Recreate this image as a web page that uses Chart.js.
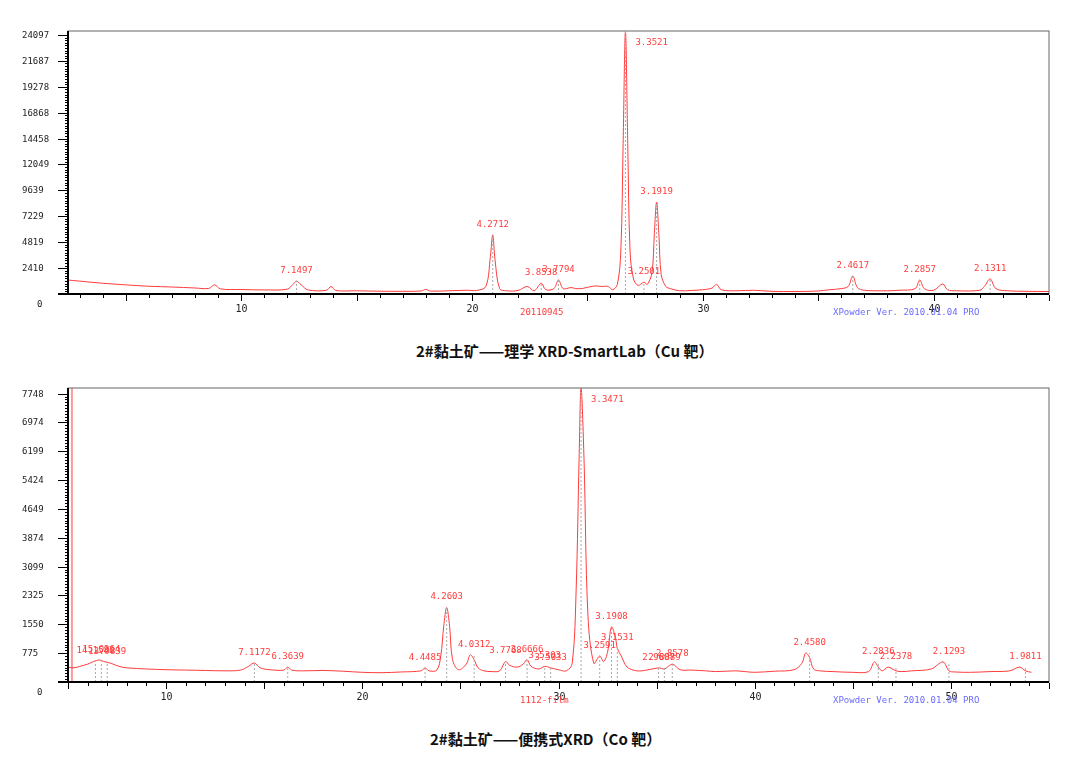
<!DOCTYPE html>
<html>
<head>
<meta charset="utf-8">
<script src="https://cdn.jsdelivr.net/npm/chart.js@4/dist/chart.umd.min.js"></script>
<style>
  body { margin: 0; background: #fff; width: 1080px; height: 772px; position: relative; overflow: hidden; }
  canvas { position: absolute; left: 0; }
  .title { position: absolute; font-family: "Noto Sans CJK SC", sans-serif; font-weight: bold; font-size: 15px; color: #111; white-space: nowrap; }
</style>
</head>
<body>
<canvas id="topChart" width="1080" height="330" style="top:0"></canvas>
<div class="title" style="left:416px; top:340px">2#黏土矿——理学 XRD-SmartLab（Cu 靶）</div>
<canvas id="bottomChart" width="1080" height="350" style="top:370px"></canvas>
<div class="title" style="left:430px; top:728px">2#黏土矿——便携式XRD（Co 靶）</div>
<script>
// ---- top pattern (Cu) ----
const cuTheta = [2.5,3,4,5,6,7,8,8.6,8.85,9.1,10,11,12,12.25,12.4,12.6,12.9,13.7,13.9,14.1,15,16,17,17.8,18,18.2,19,19.8,20.2,20.6,20.8,20.9,21.0,21.2,21.5,22,22.4,22.7,23.0,23.2,23.55,23.75,23.95,24.3,24.5,24.8,25.3,25.6,25.9,26.1,26.3,26.45,26.55,26.65,26.75,26.85,27.0,27.2,27.45,27.6,27.8,27.9,28.0,28.1,28.2,28.4,28.6,29,29.5,30,30.4,30.6,30.8,31.5,32.2,33,34,35,35.5,36,36.3,36.5,36.7,37,38,38.5,39.2,39.4,39.6,40,40.4,40.6,41,42,42.2,42.45,42.7,43.2,44,45];
const cuCounts = [1300,1200,1000,850,720,650,560,520,850,480,420,380,450,900,1200,850,380,350,700,330,300,260,250,280,420,270,300,350,330,700,3500,5500,3200,500,300,330,700,300,1000,400,500,1300,500,600,500,520,750,700,700,400,900,4000,14000,24400,14000,4000,1400,800,1100,900,2000,5500,8560,5500,1800,700,500,300,330,400,550,900,400,300,350,250,230,280,400,500,700,1670,600,350,300,350,500,1300,500,350,930,400,300,350,700,1400,500,300,250,230];
const cuPeakTheta = [12.4,20.9,23.0,23.75,26.65,27.45,28.0,36.5,39.4,42.45];
const cuPeakCounts = [1200,5500,1000,1300,24400,1100,8560,1670,1300,1400];
const cuPeakLabels = ["7.1497","4.2712","3.8538","3.7794","3.3521","3.2501","3.1919","2.4617","2.2857","2.1311"];
const cuYTicks = [0,2410,4819,7229,9639,12049,14458,16868,19278,21687,24097];

// ---- bottom pattern (Co) ----
const coTheta = [5,5.3,5.6,6,6.3,6.6,6.9,7.2,7.6,8,9,10,11,12,13,13.8,14.2,14.5,14.8,15.3,16,16.2,16.4,17,18,19,20,21,22,23,23.2,23.4,23.8,24.0,24.15,24.3,24.45,24.6,24.9,25.3,25.5,25.7,25.9,26.2,26.6,27.0,27.3,27.5,27.9,28.2,28.4,28.6,29,29.3,29.6,30,30.4,30.7,30.9,31.05,31.15,31.3,31.5,31.8,32.1,32.3,32.5,32.7,32.9,33.0,33.2,33.5,34,34.5,35.1,35.4,35.8,36.2,36.8,37.5,38,39,39.5,40,41,42,42.4,42.6,42.8,43.0,43.3,44,45,45.8,46.1,46.3,46.5,46.8,47.2,47.5,48,49,49.6,49.9,50.2,51,52,53,53.5,53.8,54.1,55];
const coCounts = [400,380,420,480,550,590,540,500,420,380,350,330,320,310,300,320,420,510,380,330,320,400,320,300,310,290,260,250,270,300,380,300,320,700,1500,2000,1500,600,330,480,730,600,380,300,280,300,550,450,400,480,600,420,350,420,380,330,300,500,2500,6000,7900,6000,1800,500,700,550,800,1480,1200,900,700,400,300,320,380,350,480,330,320,300,280,300,280,260,290,330,500,780,650,350,300,280,260,280,540,400,300,400,300,280,300,350,540,300,270,260,280,300,400,300,260];
const coPeakTheta = [6.4,6.7,7.0,14.5,16.2,23.2,24.3,25.7,27.3,28.4,29.3,29.6,31.15,32.1,33.0,32.7,35.1,35.4,35.8,42.8,46.3,47.2,49.9,53.8];
const coPeakCounts = [550,590,540,510,400,380,2000,730,550,600,420,380,7900,700,900,1480,380,380,480,780,540,400,540,400];
const coPeakLabels = ["14.1582","15.0364","13.9839","7.1172","6.3639","4.4485","4.2603","4.0312","3.7768","3.6666","3.5303","3.5033","3.3471","3.2591","3.1531","3.1908","2.9607","2.8889","2.8578","2.4580","2.2836","2.2378","2.1293","1.9811"];
const coYTicks = [0,775,1550,2325,3099,3874,4649,5424,6199,6974,7748];
const coMarkerTheta = [5.2, 5.2];
const coMarkerCounts = [0, 7900];

const RED = "#ff3b3b";
const MONO = "9px 'DejaVu Sans Mono', monospace";

function xrdFramePlugin(cfg) {
  return {
    id: "xrdFrame",
    afterDatasetsDraw(chart) {
      const ctx = chart.ctx;
      const a = chart.chartArea;
      const xs = chart.scales.x, ys = chart.scales.y;
      ctx.save();
      // peak guide lines and labels
      ctx.setLineDash([2, 2]);
      ctx.strokeStyle = "#aaa";
      ctx.lineWidth = 1;
      cfg.peakTheta.forEach((t, i) => {
        const px = xs.getPixelForValue(t);
        ctx.beginPath();
        ctx.moveTo(px, ys.getPixelForValue(0));
        ctx.lineTo(px, ys.getPixelForValue(cfg.peakCounts[i]));
        ctx.stroke();
      });
      ctx.setLineDash([]);
      ctx.font = MONO;
      ctx.fillStyle = RED;
      ctx.textBaseline = "bottom";
      cfg.peakTheta.forEach((t, i) => {
        const px = xs.getPixelForValue(t);
        let py = ys.getPixelForValue(cfg.peakCounts[i]) - 6;
        if (py < a.top + 12) {
          ctx.textAlign = "left";
          ctx.fillText(cfg.peakLabels[i], px + 10, a.top + 16);
        } else {
          ctx.textAlign = "center";
          ctx.fillText(cfg.peakLabels[i], px, py);
        }
      });
      // frame
      ctx.strokeStyle = "#666";
      ctx.lineWidth = 1;
      ctx.strokeRect(a.left, a.top, a.right - a.left, a.bottom - a.top);
      ctx.strokeStyle = "#000";
      ctx.lineWidth = 2;
      ctx.beginPath();
      ctx.moveTo(a.left - 10, a.bottom); ctx.lineTo(a.right, a.bottom);
      ctx.moveTo(a.left, a.top); ctx.lineTo(a.left, a.bottom);
      ctx.stroke();
      ctx.lineWidth = 1;
      // x ticks
      ctx.font = "10px 'DejaVu Sans Mono', monospace";
      ctx.fillStyle = "#222";
      ctx.textAlign = "center";
      ctx.textBaseline = "top";
      for (let v = Math.ceil(xs.min); v <= xs.max; v++) {
        const px = Math.round(xs.getPixelForValue(v)) + 0.5;
        const len = v % 5 === 0 ? 6 : 3;
        ctx.beginPath(); ctx.moveTo(px, a.bottom + 1); ctx.lineTo(px, a.bottom + 1 + len); ctx.stroke();
        if (v % 10 === 0) ctx.fillText(String(v), px, a.bottom + 10);
      }
      // y ticks
      ctx.font = MONO;
      ctx.textAlign = "left";
      ctx.textBaseline = "middle";
      const step = cfg.yTicks[1];
      cfg.yTicks.forEach((v, i) => {
        const py = Math.round(ys.getPixelForValue(v)) + 0.5;
        ctx.beginPath(); ctx.moveTo(a.left - 10, py); ctx.lineTo(a.left, py); ctx.stroke();
        ctx.fillText(String(v), v === 0 ? 37 : 22, py + (v === 0 ? 10 : 0));
        if (i < cfg.yTicks.length - 1) {
          for (let k = 1; k < 10; k++) {
            const my = Math.round(ys.getPixelForValue(v + step * k / 10)) + 0.5;
            ctx.beginPath(); ctx.moveTo(a.left - 3, my); ctx.lineTo(a.left, my); ctx.stroke();
          }
        }
      });
      // footer texts
      ctx.textBaseline = "top";
      ctx.fillStyle = RED;
      ctx.fillText(cfg.sample, 520, a.bottom + 14);
      ctx.fillStyle = "#6a6aff";
      ctx.fillText("XPowder Ver. 2010.01.04 PRO", 833, a.bottom + 14);
      ctx.restore();
    }
  };
}

function makeXrd(id, theta, counts, extra, xr, yMax, pad, cfg) {
  const datasets = [{
    data: theta.map((t, i) => ({ x: t, y: counts[i] })),
    borderColor: RED, borderWidth: 1, pointRadius: 0, tension: 0.35, fill: false
  }];
  if (extra) datasets.push({
    data: extra[0].map((t, i) => ({ x: t, y: extra[1][i] })),
    borderColor: "#ff9a9a", borderWidth: 2, pointRadius: 0, fill: false
  });
  new Chart(document.getElementById(id).getContext("2d"), {
    type: "line",
    data: { datasets },
    options: {
      responsive: false, animation: false,
      layout: { padding: pad },
      plugins: { legend: { display: false }, tooltip: { enabled: false } },
      scales: {
        x: { type: "linear", min: xr[0], max: xr[1], display: false },
        y: { min: 0, max: yMax, display: false }
      }
    },
    plugins: [xrdFramePlugin(cfg)]
  });
}

makeXrd("topChart", cuTheta, cuCounts, null, [2.5, 45], 24470,
  { left: 68, top: 31, right: 31, bottom: 36 },
  { peakTheta: cuPeakTheta, peakCounts: cuPeakCounts, peakLabels: cuPeakLabels, yTicks: cuYTicks, sample: "20110945" });

makeXrd("bottomChart", coTheta, coCounts, [coMarkerTheta, coMarkerCounts], [5, 55], 7900,
  { left: 68, top: 18, right: 31, bottom: 38 },
  { peakTheta: coPeakTheta, peakCounts: coPeakCounts, peakLabels: coPeakLabels, yTicks: coYTicks, sample: "1112-film" });
</script>
</body>
</html>
